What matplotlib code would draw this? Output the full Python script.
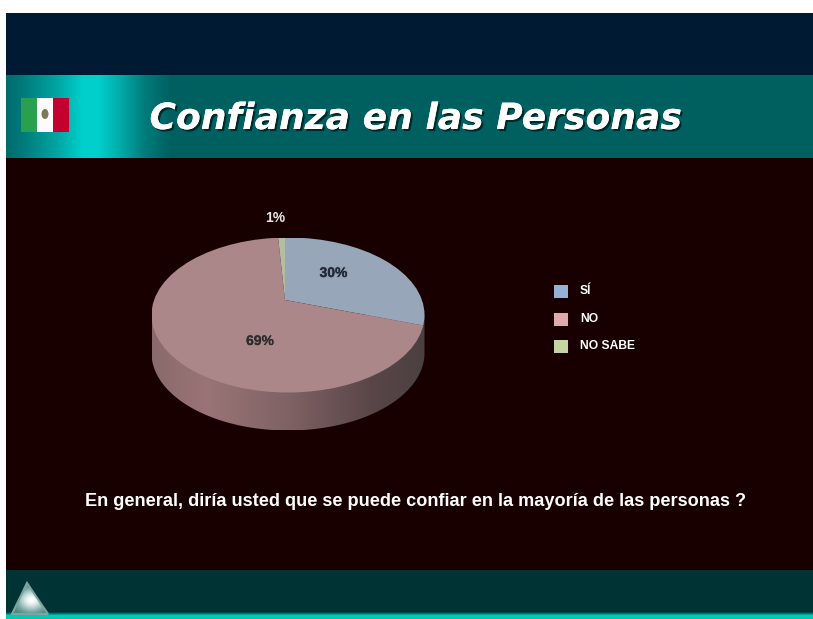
import numpy as np
import matplotlib
matplotlib.use('Agg')
import matplotlib.pyplot as plt
from matplotlib.colors import LinearSegmentedColormap
from matplotlib.patches import Ellipse, Polygon, Rectangle
from matplotlib.path import Path
import matplotlib.patheffects as pe

W, H = 813, 619

categories = ['SÍ', 'NO', 'NO SABE']
values = [30, 69, 1]
pie_labels = ['30%', '69%', '1%']
pie_colors = ['#98A6B9', '#AB8789', '#B4BCA2']
legend_colors = ['#95B1D6', '#DFAAAE', '#C3D5A0']
title = 'Confianza en las Personas'
question = 'En general, diría usted que se puede confiar en la mayoría de las personas ?'

fig = plt.figure(figsize=(W / 100, H / 100), dpi=100, facecolor='white')
ax = fig.add_axes([0, 0, 1, 1])
ax.axis('off')

# slide bands
ax.add_patch(Rectangle((6, 13), W - 6, 62, fc='#001A33', ec='none'))
ax.add_patch(Rectangle((6, 158), W - 6, 412, fc='#190000', ec='none'))
ax.add_patch(Rectangle((6, 570), W - 6, 44, fc='#003333', ec='none'))

header = LinearSegmentedColormap.from_list('header', [
    (0, '#006C6C'), (0.1, '#007A7A'), (0.32, '#00A8A6'), (0.46, '#00CFCB'), (0.56, '#00D0CC'),
    (0.7, '#00AAA8'), (0.84, '#007C7C'), (1, '#006060')])
ax.imshow(np.linspace(0, 1, 256)[None, :], cmap=header, extent=(6, 170, 158, 75), aspect='auto', zorder=1)
ax.add_patch(Rectangle((170, 75), W - 170, 83, fc='#006060', ec='none', zorder=1))

strip = LinearSegmentedColormap.from_list('strip', ['#003B3B', '#00D0B8', '#00C8B0'])
ax.imshow(np.linspace(0, 1, 16)[:, None], cmap=strip, extent=(6, W, 619, 612), aspect='auto', zorder=1)

# flag
ax.add_patch(Rectangle((21, 98), 16, 34, fc='#2AA04E', ec='none', zorder=2))
ax.add_patch(Rectangle((37, 98), 16, 34, fc='#FBFBFB', ec='none', zorder=2))
ax.add_patch(Rectangle((53, 98), 16, 34, fc='#C40030', ec='none', zorder=2))
ax.add_patch(Ellipse((45, 114), 7, 10, fc='#7A7A58', ec='none', zorder=3))

# title
ax.text(416, 119, title, color='white', fontsize=26, fontweight='bold', fontstyle='oblique',
        family='DejaVu Sans', ha='center', va='center', zorder=4,
        path_effects=[pe.withSimplePatchShadow(offset=(1.5, -1.5), shadow_rgbFace='#002020', alpha=0.85), pe.Normal()])

# footer triangle
tri_x, tri_y = np.meshgrid(np.linspace(12, 49, 60), np.linspace(582, 615, 60))
glow = np.exp(-(((tri_x - 31) / 13) ** 2 + ((tri_y - 600) / 11) ** 2))
tri_cmap = LinearSegmentedColormap.from_list('tri', ['#3F7F7C', '#A5C6C3', '#FFFFFF'])
im = ax.imshow(glow, cmap=tri_cmap, extent=(12, 49, 615, 582), aspect='auto', zorder=3)
tri = Polygon([(27, 583), (12, 614), (48, 614)], closed=True, fc='none', ec='#7FA3A0', lw=1.5, zorder=4)
ax.add_patch(tri)
im.set_clip_path(tri)

# pie side wall
cx, cy, rx, ry, depth = 288, 315, 136.5, 77.5, 38
t = np.linspace(0, np.pi, 120)
wall = np.column_stack([cx + rx * np.cos(t), cy + depth + ry * np.sin(t)])
wall = np.vstack([[cx + rx, cy], wall, [cx - rx, cy], [cx + rx, cy]])
wall_path = Path(wall)
wall_cmap = LinearSegmentedColormap.from_list('wall', [
    (0, '#8A6A6C'), (0.2, '#9A7476'), (0.5, '#7F6264'), (0.8, '#5A4648'), (1, '#4A4040')])
wall_im = ax.imshow(np.linspace(0, 1, 256)[None, :], cmap=wall_cmap,
                    extent=(cx - rx, cx + rx, cy + depth + ry, cy), aspect='auto', zorder=2)
wall_im.set_clip_path(wall_path, transform=ax.transData)

# legend
for i, (name, col) in enumerate(zip(categories, legend_colors)):
    y0 = 285 + i * 27.5
    ax.add_patch(Rectangle((554, y0), 14, 13, fc=col, ec='none', zorder=2))
    ax.text(580, y0 + 6, name, color='white', fontsize=8.7, fontweight='bold',
            family='Liberation Sans', va='center', ha='left', zorder=3)

ax.text(415.5, 501, question, color='white', fontsize=13.05, fontweight='bold',
        family='Liberation Sans', ha='center', va='center', zorder=3)

ax.set_xlim(0, W)
ax.set_ylim(H, 0)

# pie top, axes spans the ellipse box, apex sits above ellipse centre
ax_pie = fig.add_axes([(cx - rx) / W, 1 - (cy + ry) / H, 2 * rx / W, 2 * ry / H])
wedges, _ = ax_pie.pie(values, colors=pie_colors, startangle=90, counterclock=False,
                       radius=1.8, center=(0, 0))
ax_pie.set_aspect('auto')
apex_x, apex_y = 285, 300
x_lo = (cx - rx - apex_x) / rx
y_hi = (apex_y - (cy - ry)) / ry
ax_pie.set_xlim(x_lo, x_lo + 2)
ax_pie.set_ylim(y_hi - 2, y_hi)
ax_pie.patch.set_alpha(0)
top = Ellipse(((cx - apex_x) / rx, (apex_y - cy) / ry), 2, 2, fc='none', ec='none',
              transform=ax_pie.transData)
ax_pie.add_patch(top)
for w in wedges:
    w.set_clip_on(True)  # pie turns clipping off
    w.set_clip_path(top)

# blurry data labels, own overlay so they sit over the pie
ax_top = fig.add_axes([0, 0, 1, 1])
ax_top.axis('off')
ax_top.set_xlim(0, W)
ax_top.set_ylim(H, 0)
blur = [pe.withStroke(linewidth=1.5, foreground='#8A8A90', alpha=0.5), pe.Normal()]
ax_top.text(333.5, 273, pie_labels[0], color='#1E2A3C', fontsize=10, fontweight='bold', family='Liberation Sans',
            ha='center', va='center', path_effects=blur)
ax_top.text(260, 341, pie_labels[1], color='#35282A', fontsize=10, fontweight='bold', family='Liberation Sans',
            ha='center', va='center', path_effects=blur)
ax_top.text(275, 218, pie_labels[2], color='#E6E6E6', fontsize=10, fontweight='bold', family='Liberation Sans',
            ha='center', va='center')

fig.savefig('out.png', dpi=100, facecolor='white')
